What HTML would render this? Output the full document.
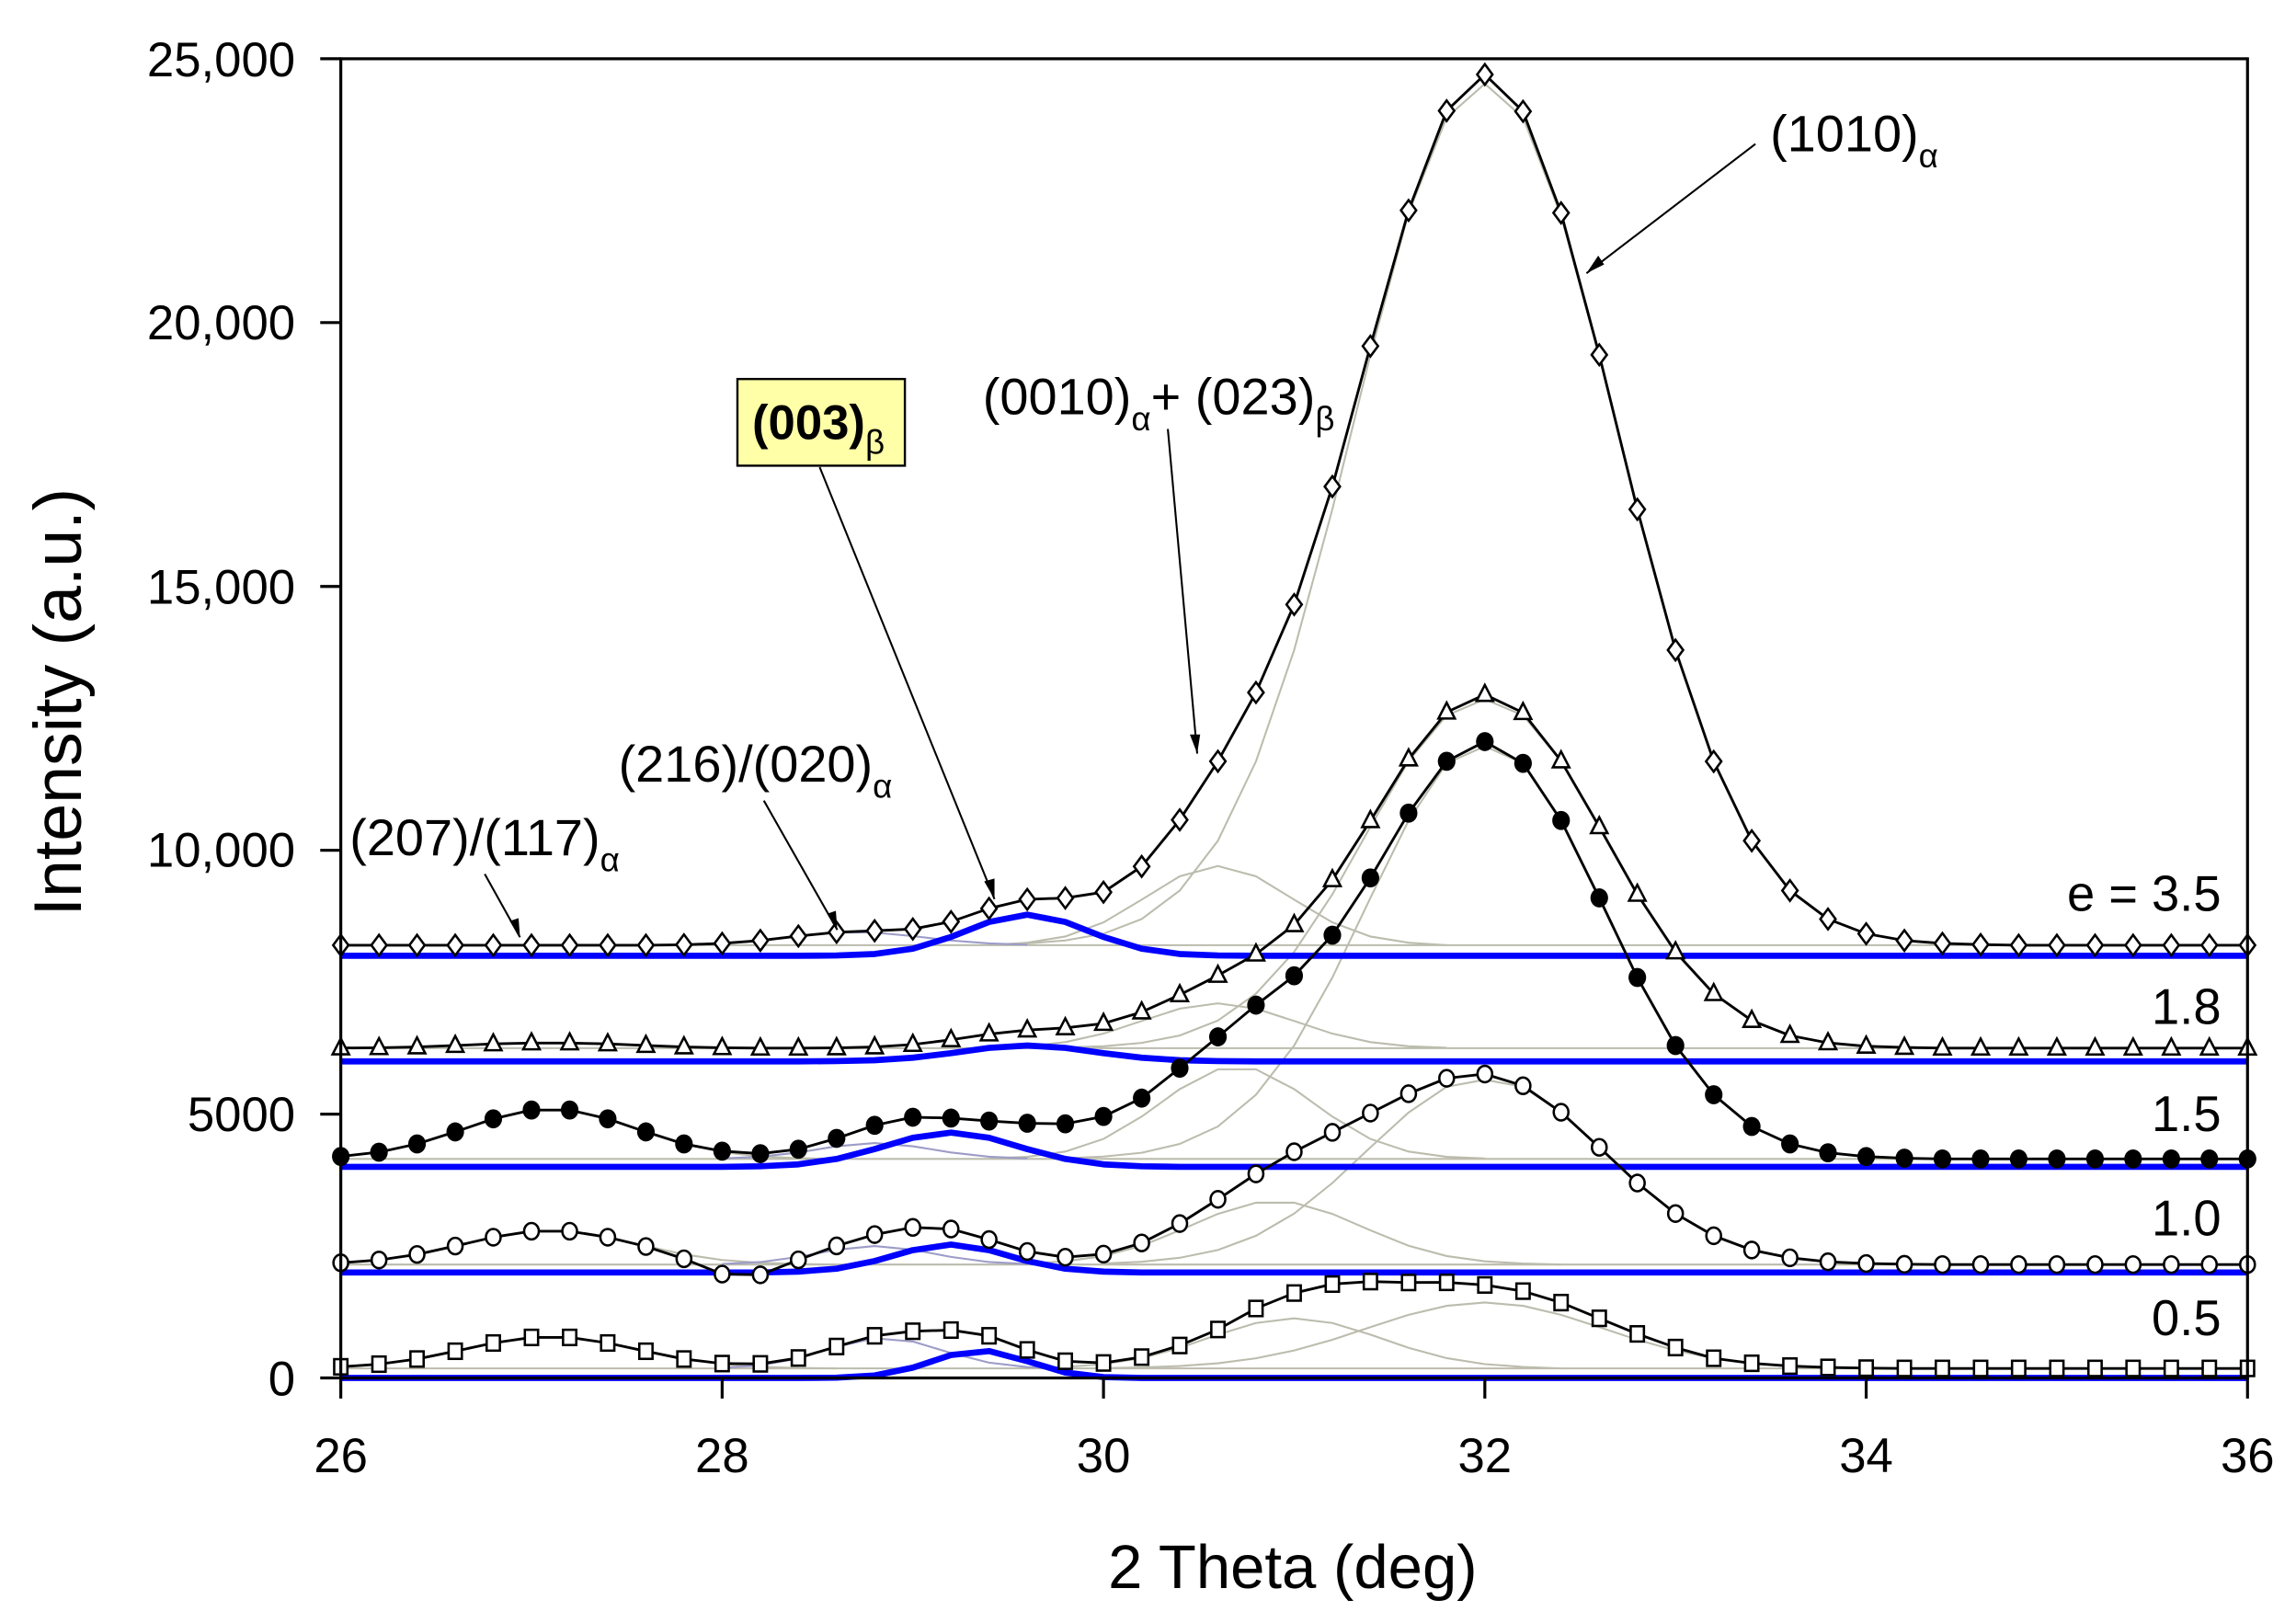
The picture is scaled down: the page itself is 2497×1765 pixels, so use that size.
<!DOCTYPE html>
<html><head><meta charset="utf-8"><style>
html,body{margin:0;padding:0;background:#fff;}
svg{display:block;}
text{font-family:"Liberation Sans",Arial,sans-serif;fill:#000;}
</style></head><body>
<svg width="2497" height="1765" viewBox="0 0 1563 1104.8" xmlns="http://www.w3.org/2000/svg">
<defs>
<marker id="md" markerUnits="userSpaceOnUse" viewBox="-9 -9 18 18" markerWidth="18" markerHeight="18" refX="0" refY="0" overflow="visible"><path d="M0,-7 L5.2,0 L0,7 L-5.2,0Z" fill="#fff" stroke="#000" stroke-width="1.6"/></marker>
<marker id="mt" markerUnits="userSpaceOnUse" viewBox="-9 -9 18 18" markerWidth="18" markerHeight="18" refX="0" refY="0" overflow="visible"><path d="M0,-6.5 L5.6,4.3 L-5.6,4.3Z" fill="#fff" stroke="#000" stroke-width="1.6"/></marker>
<marker id="mf" markerUnits="userSpaceOnUse" viewBox="-9 -9 18 18" markerWidth="18" markerHeight="18" refX="0" refY="0" overflow="visible"><ellipse cx="0" cy="0" rx="6" ry="6.5" fill="#000"/></marker>
<marker id="mc" markerUnits="userSpaceOnUse" viewBox="-9 -9 18 18" markerWidth="18" markerHeight="18" refX="0" refY="0" overflow="visible"><ellipse cx="0" cy="0" rx="5" ry="5.6" fill="#fff" stroke="#000" stroke-width="1.6"/></marker>
<marker id="ms" markerUnits="userSpaceOnUse" viewBox="-9 -9 18 18" markerWidth="18" markerHeight="18" refX="0" refY="0" overflow="visible"><rect x="-4.5" y="-5.2" width="9" height="10.4" fill="#fff" stroke="#000" stroke-width="1.6"/></marker>
</defs>

<!-- gray component lines -->
<g fill="none" stroke="#bcbcae" stroke-width="1.3">
<line x1="232" y1="643.4" x2="1530" y2="643.4"/>
<line x1="232" y1="713.5" x2="1530" y2="713.5"/>
<line x1="232" y1="788.9" x2="1530" y2="788.9"/>
<line x1="232" y1="860.8" x2="1530" y2="860.8"/>
<line x1="232" y1="931.5" x2="1530" y2="931.5"/>
<polyline points="673.3,643 699.3,642.2 725.2,640.2 751.2,635.6 777.2,625.6 803.1,606.2 829.1,572.3 855,518.3 881,442.5 907,346.7 932.9,241.5 958.9,144.9 984.8,80 1010.8,57 1036.8,80 1062.7,146.9 1088.7,242.5 1114.6,346.7 1140.6,442.5 1166.6,518.3 1192.5,572.3 1218.5,606.2 1244.4,625.6 1270.4,635.6 1296.4,640.2 1322.3,642.2 1348.3,643.2"/>
<polyline points="673.3,643.4 699.3,641.7 725.2,637.5 751.2,627.9 777.2,612.4 803.1,596.5 829.1,589.5 855,596.5 881,612.4 907,627.9 932.9,637.5 958.9,641.7 984.8,643.4"/>
<polyline points="725.2,713 751.2,712.2 777.2,709.9 803.1,704.9 829.1,694.7 855,676.4 881,648 907,608.8 932.9,562.8 958.9,518 984.8,487 1010.8,476 1036.8,487 1062.7,518 1088.7,562.8 1114.6,608.8 1140.6,648 1166.6,676.4 1192.5,694.7 1218.5,704.9 1244.4,709.9 1270.4,712.2 1296.4,713 1322.3,713.5"/>
<polyline points="673.3,713.2 699.3,712.2 725.2,709.4 751.2,703.6 777.2,695 803.1,686.6 829.1,683 855,686.6 881,695 907,703.6 932.9,709.4 958.9,712.2 984.8,713.2"/>
<polyline points="232,713.4 258,713.2 283.9,712.7 309.9,711.7 335.8,710.6 361.8,710 387.8,710 413.7,710.6 439.7,711.7 465.6,712.7 491.6,713.2 517.6,713.5"/>
<polyline points="725.2,788.4 751.2,787.3 777.2,784.7 803.1,778.7 829.1,766.8 855,745.2 881,711.7 907,665.4 932.9,611.2 958.9,558.5 984.8,519.6 1010.8,508 1036.8,519.6 1062.7,558.5 1088.7,611.2 1114.6,665.4 1140.6,711.7 1166.6,745.2 1192.5,766.8 1218.5,778.7 1244.4,784.7 1270.4,787.3 1296.4,788.4 1322.3,788.9"/>
<polyline points="673.3,788.6 699.3,787.5 725.2,783.9 751.2,775.3 777.2,760.1 803.1,741.4 829.1,727.9 855,727.9 881,741.4 907,760.1 932.9,775.3 958.9,783.9 984.8,787.5 1010.8,788.6"/>
<polyline points="232,787.2 258,784.3 283.9,778.7 309.9,770.5 335.8,761.6 361.8,755.6 387.8,755.6 413.7,761.6 439.7,770.5 465.6,778.7 491.6,784.3 517.6,787.2 543.5,788.4 569.5,788.9"/>
<polyline points="751.2,860.1 777.2,858.9 803.1,856.2 829.1,850.9 855,841.2 881,826.1 907,805.3 932.9,781 958.9,757.3 984.8,739.8 1010.8,735 1036.8,739.8 1062.7,757.3 1088.7,781 1114.6,805.3 1140.6,826.1 1166.6,841.2 1192.5,850.9 1218.5,856.2 1244.4,858.9 1270.4,860.1 1296.4,860.8"/>
<polyline points="699.3,860.1 725.2,858.6 751.2,855 777.2,848 803.1,837.5 829.1,826.3 855,818.7 881,818.7 907,826.3 932.9,837.5 958.9,848 984.8,855 1010.8,858.6 1036.8,860.1 1062.7,860.8"/>
<polyline points="232,859.6 258,857.7 283.9,853.9 309.9,848.2 335.8,842.2 361.8,838.1 387.8,838.1 413.7,842.2 439.7,848.2 465.6,853.9 491.6,857.7 517.6,859.6 543.5,860.4 569.5,860.8"/>
<polyline points="751.2,931.3 777.2,930.8 803.1,929.9 829.1,928 855,924.6 881,919.3 907,912 932.9,903.4 958.9,895 984.8,888.9 1010.8,886.6 1036.8,888.9 1062.7,895 1088.7,903.4 1114.6,912 1140.6,919.3 1166.6,924.6 1192.5,928 1218.5,929.9 1244.4,930.8 1270.4,931.3 1296.4,931.5"/>
<polyline points="699.3,931.5 725.2,930.5 751.2,928.6 777.2,924.5 803.1,917.5 829.1,908.5 855,900.6 881,897.4 907,900.6 932.9,908.5 958.9,917.5 984.8,924.5 1010.8,928.6 1036.8,930.5 1062.7,931.5"/>
<polyline points="232,930.4 258,928.6 283.9,925.1 309.9,919.8 335.8,914.2 361.8,910.4 387.8,910.4 413.7,914.2 439.7,919.8 465.6,925.1 491.6,928.6 517.6,930.4 543.5,931.2 569.5,931.5"/>
</g>
<g fill="none" stroke="#9c9cc8" stroke-width="1.3">
<polyline points="465.6,643.4 491.6,642.2 517.6,640.2 543.5,637.2 569.5,634.8 595.4,634.8 621.4,637.2 647.4,640.2 673.3,642.2 699.3,643.1"/>
<polyline points="491.6,788.6 517.6,787.4 543.5,784.5 569.5,780.3 595.4,778.1 621.4,780.3 647.4,784.5 673.3,787.4 699.3,788.6"/>
<polyline points="491.6,860.4 517.6,859.1 543.5,855.6 569.5,850.7 595.4,848.2 621.4,850.7 647.4,855.6 673.3,859.1 699.3,860.4"/>
<polyline points="491.6,931.1 517.6,929.5 543.5,924.7 569.5,916.8 595.4,911 621.4,913.2 647.4,921 673.3,927.6 699.3,930.6 725.2,931.5"/>
</g>
<g fill="none" stroke="#0000ff" stroke-width="4.2" stroke-linejoin="round">
<polyline points="232,650.6 543.5,650.6 569.5,650.4 595.4,649.4 621.4,645.8 647.4,637.8 673.3,627.6 699.3,622.6 725.2,627.6 751.2,637.8 777.2,645.8 803.1,649.4 829.1,650.4 855,650.6 1530,650.6"/>
<polyline points="232,722.5 543.5,722.5 569.5,722.3 595.4,721.7 621.4,720 647.4,716.9 673.3,713.3 699.3,711.7 725.2,713.3 751.2,716.9 777.2,720 803.1,721.7 829.1,722.3 855,722.5 1530,722.5"/>
<polyline points="232,794.3 491.6,794.3 517.6,793.9 543.5,792.6 569.5,788.9 595.4,782.2 621.4,774.5 647.4,771 673.3,774.5 699.3,782.2 725.2,788.9 751.2,792.6 777.2,793.9 803.1,794.3 1530,794.3"/>
<polyline points="232,866.2 517.6,866.2 543.5,865.6 569.5,863.6 595.4,858.4 621.4,851 647.4,847.2 673.3,851 699.3,858.4 725.2,863.6 751.2,865.6 777.2,866.2 1530,866.2"/>
<polyline points="232,938 543.5,938 569.5,937.8 595.4,936.3 621.4,931 647.4,922.4 673.3,919.7 699.3,926.6 725.2,934.3 751.2,937.4 777.2,938 1530,938"/>
</g>
<g fill="none" stroke="#000" stroke-width="1.8" stroke-linejoin="round">
<polyline marker-start="url(#md)" marker-mid="url(#md)" marker-end="url(#md)" points="232,643.4 258,643.4 283.9,643.4 309.9,643.4 335.8,643.4 361.8,643.4 387.8,643.4 413.7,643.4 439.7,643.4 465.6,643.1 491.6,642.2 517.6,640.2 543.5,637.2 569.5,634.6 595.4,633.6 621.4,632.4 647.4,627.4 673.3,618.4 699.3,612.2 725.2,611.3 751.2,607.3 777.2,589.8 803.1,558.1 829.1,518.2 855,471.4 881,411.5 907,331.2 932.9,235.6 958.9,143.2 984.8,75.4 1010.8,50.7 1036.8,75.8 1062.7,144.9 1088.7,241.5 1114.6,346.7 1140.6,442.5 1166.6,518.3 1192.5,572.3 1218.5,606.2 1244.4,625.6 1270.4,635.6 1296.4,640.2 1322.3,642.2 1348.3,643 1374.2,643.4 1400.2,643.4 1426.2,643.4 1452.1,643.4 1478.1,643.4 1504,643.4 1530,643.4"/>
<polyline marker-start="url(#mt)" marker-mid="url(#mt)" marker-end="url(#mt)" points="232,713.4 258,713.2 283.9,712.7 309.9,711.7 335.8,710.6 361.8,710 387.8,710 413.7,710.6 439.7,711.7 465.6,712.7 491.6,713.2 517.6,713.5 543.5,713.5 569.5,713.3 595.4,712.7 621.4,711 647.4,707.8 673.3,703.9 699.3,701.2 725.2,699.7 751.2,696.7 777.2,688.9 803.1,677.2 829.1,664 855,649.5 881,629.5 907,598.9 932.9,558.7 958.9,516.7 984.8,484.8 1010.8,472.8 1036.8,485.1 1062.7,518 1088.7,562.8 1114.6,608.8 1140.6,648 1166.6,676.4 1192.5,694.7 1218.5,704.9 1244.4,709.9 1270.4,712.2 1296.4,713 1322.3,713.5 1348.3,713.5 1374.2,713.5 1400.2,713.5 1426.2,713.5 1452.1,713.5 1478.1,713.5 1504,713.5 1530,713.5"/>
<polyline marker-start="url(#mf)" marker-mid="url(#mf)" marker-end="url(#mf)" points="232,787.2 258,784.3 283.9,778.7 309.9,770.5 335.8,761.6 361.8,755.6 387.8,755.6 413.7,761.6 439.7,770.5 465.6,778.7 491.6,783.6 517.6,785.3 543.5,782.3 569.5,774.9 595.4,766 621.4,760.5 647.4,761.1 673.3,763.1 699.3,764.6 725.2,765 751.2,760 777.2,747.5 803.1,727.1 829.1,705.8 855,684.2 881,664.2 907,636.6 932.9,597.6 958.9,553.5 984.8,518.2 1010.8,504.8 1036.8,519.6 1062.7,558.5 1088.7,611.2 1114.6,665.4 1140.6,711.7 1166.6,745.2 1192.5,766.8 1218.5,778.7 1244.4,784.7 1270.4,787.3 1296.4,788.4 1322.3,788.9 1348.3,788.9 1374.2,788.9 1400.2,788.9 1426.2,788.9 1452.1,788.9 1478.1,788.9 1504,788.9 1530,788.9"/>
<polyline marker-start="url(#mc)" marker-mid="url(#mc)" marker-end="url(#mc)" points="232,859.6 258,857.7 283.9,853.9 309.9,848.2 335.8,842.2 361.8,838.1 387.8,838.1 413.7,842.2 439.7,848.5 465.6,856.9 491.6,867.3 517.6,867.8 543.5,857.6 569.5,848.1 595.4,840.4 621.4,835.5 647.4,836.6 673.3,843.8 699.3,851.9 725.2,855.8 751.2,853.7 777.2,846.1 803.1,832.9 829.1,816.4 855,799.1 881,784 907,770.8 932.9,757.7 958.9,744.5 984.8,734 1010.8,731.1 1036.8,739.1 1062.7,757.1 1088.7,781 1114.6,805.3 1140.6,826.1 1166.6,841.2 1192.5,850.9 1218.5,856.2 1244.4,858.9 1270.4,860.1 1296.4,860.6 1322.3,860.8 1348.3,860.8 1374.2,860.8 1400.2,860.8 1426.2,860.8 1452.1,860.8 1478.1,860.8 1504,860.8 1530,860.8"/>
<polyline marker-start="url(#ms)" marker-mid="url(#ms)" marker-end="url(#ms)" points="232,930.4 258,928.6 283.9,925.1 309.9,919.8 335.8,914.2 361.8,910.4 387.8,910.4 413.7,914.2 439.7,919.8 465.6,925.1 491.6,928.2 517.6,928.4 543.5,924.4 569.5,916.6 595.4,909.3 621.4,906.2 647.4,905.4 673.3,909.3 699.3,918.9 725.2,926.6 751.2,927.8 777.2,923.8 803.1,915.9 829.1,905 855,890.7 881,880.2 907,874.1 932.9,872.4 958.9,873 984.8,872.9 1010.8,874.7 1036.8,878.9 1062.7,886.7 1088.7,897.4 1114.6,908 1140.6,917.3 1166.6,924.6 1192.5,928 1218.5,929.9 1244.4,930.8 1270.4,931.3 1296.4,931.5 1322.3,931.5 1348.3,931.5 1374.2,931.5 1400.2,931.5 1426.2,931.5 1452.1,931.5 1478.1,931.5 1504,931.5 1530,931.5"/>
</g>

<rect x="232" y="40" width="1298" height="898" fill="none" stroke="#000" stroke-width="2"/>
<g stroke="#000" stroke-width="2">
<line x1="218" y1="40" x2="232" y2="40"/><line x1="218" y1="219.6" x2="232" y2="219.6"/>
<line x1="218" y1="399.2" x2="232" y2="399.2"/><line x1="218" y1="578.8" x2="232" y2="578.8"/>
<line x1="218" y1="758.4" x2="232" y2="758.4"/><line x1="218" y1="938" x2="232" y2="938"/>
<line x1="232" y1="938" x2="232" y2="952"/><line x1="491.6" y1="938" x2="491.6" y2="952"/>
<line x1="751.2" y1="938" x2="751.2" y2="952"/><line x1="1010.8" y1="938" x2="1010.8" y2="952"/>
<line x1="1270.4" y1="938" x2="1270.4" y2="952"/><line x1="1530" y1="938" x2="1530" y2="952"/>
</g>
<g font-size="33" text-anchor="end">
<text x="201" y="52">25,000</text><text x="201" y="231">20,000</text>
<text x="201" y="411">15,000</text><text x="201" y="590">10,000</text>
<text x="201" y="770">5000</text><text x="201" y="950">0</text>
</g>
<g font-size="33" text-anchor="middle">
<text x="232" y="1002">26</text><text x="491.6" y="1002">28</text><text x="751.2" y="1002">30</text>
<text x="1010.8" y="1002">32</text><text x="1270.4" y="1002">34</text><text x="1530" y="1002">36</text>
</g>
<text x="880" y="1081" font-size="42" text-anchor="middle">2 Theta (deg)</text>
<text transform="translate(55,478) rotate(-90)" font-size="46" text-anchor="middle">Intensity (a.u.)</text>
<g font-size="34" text-anchor="end">
<text x="1512" y="620">e = 3.5</text><text x="1512" y="697">1.8</text>
<text x="1512" y="770">1.5</text><text x="1512" y="841">1.0</text><text x="1512" y="909">0.5</text>
</g>
<g stroke="#000" stroke-width="1.3" fill="none">
<line x1="1195" y1="98" x2="1080" y2="186"/>
<line x1="795" y1="292" x2="815" y2="513"/>
<line x1="558" y1="318" x2="677" y2="612"/>
<line x1="520" y1="545" x2="570" y2="633"/>
<line x1="330" y1="595" x2="354" y2="638"/>
</g>
<g fill="#000">
<polygon points="1080,186 1088,174 1092,180"/>
<polygon points="815,513 810,500 817,500"/>
<polygon points="677,612 670,600 677,598"/>
<polygon points="570,633 563,622 569,620"/>
<polygon points="354,638 347,627 353,625"/>
</g>
<g font-size="35">
<text x="1205" y="103">(1010)<tspan font-size="23" dy="11">α</tspan></text>
<text x="669" y="282">(0010)<tspan font-size="23" dy="11">α</tspan><tspan dy="-11">+ (023)</tspan><tspan font-size="23" dy="11">β</tspan></text>
<text x="421" y="532">(216)/(020)<tspan font-size="23" dy="11">α</tspan></text>
<text x="238" y="582">(207)/(117)<tspan font-size="23" dy="11">α</tspan></text>
</g>
<rect x="502" y="258" width="114" height="59" fill="#ffffa8" stroke="#000" stroke-width="1.5"/>
<text x="512" y="299" font-size="33" font-weight="bold">(003)<tspan font-size="23" font-weight="normal" dy="10">β</tspan></text>
</svg>
</body></html>
